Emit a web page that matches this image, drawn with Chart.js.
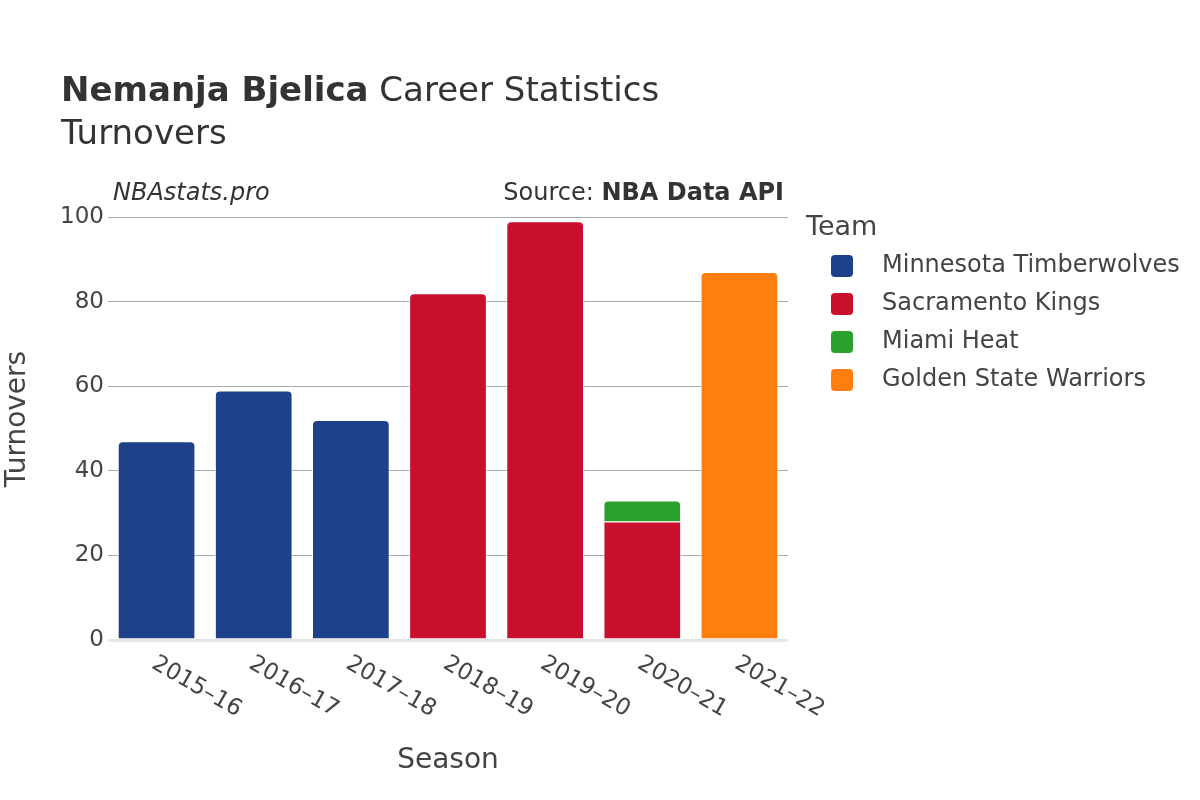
<!DOCTYPE html>
<html>
<head>
<meta charset="utf-8">
<script src="https://cdn.jsdelivr.net/npm/chart.js@4.4.1/dist/chart.umd.min.js"></script>
<style>
  html, body { margin: 0; padding: 0; background: #fff; }
  #wrap { width: 1200px; height: 800px; }
</style>
</head>
<body>
<div id="wrap"><canvas id="turnoversChart" width="1200" height="800"></canvas></div>
<script>
// seasons + turnovers by team (null = didn't play for that team)
var seasons = ['2015–16', '2016–17', '2017–18', '2018–19', '2019–20', '2020–21', '2021–22'];
var timberwolves = [47, 59, 52, null, null, null, null];
var kings = [null, null, null, 82, 99, 28, null];
var heat = [null, null, null, null, null, 5, null];
var warriors = [null, null, null, null, null, null, 87];
var yTicks = [0, 20, 40, 60, 80, 100];

var FONT = '"DejaVu Sans", sans-serif';
var TEXT = '#444';

// round only the top segment of a stack
function topRadius(ctx) {
  var ds = ctx.chart.data.datasets;
  for (var k = ctx.datasetIndex + 1; k < ds.length; k++) {
    if (ds[k].data[ctx.dataIndex] != null) return 0;
  }
  return { topLeft: 5, topRight: 5, bottomLeft: 0, bottomRight: 0 };
}

function makeSet(label, data, color) {
  return {
    label: label,
    data: data,
    backgroundColor: color,
    borderColor: 'rgba(255,255,255,0.9)',
    borderWidth: 1,
    borderSkipped: 'bottom',
    borderRadius: topRadius,
    barPercentage: 0.8,
    categoryPercentage: 1.0
  };
}

var textPlugin = {
  id: 'textPlugin',
  afterDraw: function (chart) {
    var c = chart.ctx;
    c.save();
    c.fillStyle = '#333';
    c.textBaseline = 'alphabetic';
    c.textAlign = 'left';

    // title
    c.font = 'bold 34px ' + FONT;
    var bold = 'Nemanja Bjelica';
    c.fillText(bold, 61, 101);
    var w = c.measureText(bold).width;
    c.font = '34px ' + FONT;
    c.fillText(' Career Statistics', 61 + w, 101);
    c.fillText('Turnovers', 61, 144);

    // subtitle row
    c.font = 'italic 24px ' + FONT;
    c.fillText('NBAstats.pro', 113, 200);
    c.textAlign = 'right';
    c.font = 'bold 24px ' + FONT;
    c.fillText('NBA Data API', 784, 200);
    var w2 = c.measureText('NBA Data API').width;
    c.font = '24px ' + FONT;
    c.fillText('Source: ', 784 - w2, 200);

    // x tick labels, rotated clockwise
    var xs = chart.scales.x;
    c.fillStyle = TEXT;
    c.font = '23px ' + FONT;
    c.textAlign = 'left';
    c.textBaseline = 'middle';
    seasons.forEach(function (s, i) {
      var x = xs.getPixelForValue(i);
      c.save();
      c.translate(x - 3, 662);
      c.rotate(Math.PI / 6);
      c.fillText(s, 0, 0);
      c.restore();
    });

    // axis titles
    c.font = '28px ' + FONT;
    c.textAlign = 'center';
    c.fillText('Season', (chart.chartArea.left + chart.chartArea.right) / 2, 761);
    c.save();
    c.translate(18, 419);
    c.rotate(-Math.PI / 2);
    c.fillText('Turnovers', 0, 0);
    c.restore();

    // legend
    c.textAlign = 'left';
    c.font = '27px ' + FONT;
    c.fillText('Team', 806, 228);
    c.font = '24px ' + FONT;
    chart.data.datasets.forEach(function (ds, i) {
      var y = 266 + i * 38;
      c.fillStyle = ds.backgroundColor;
      c.beginPath();
      c.roundRect(831, y - 11, 22, 22, 4);
      c.fill();
      c.fillStyle = TEXT;
      c.fillText(ds.label, 882, y);
    });
    c.restore();
  }
};

var ctx = document.getElementById('turnoversChart');
var turnoversChart = new Chart(ctx, {
  type: 'bar',
  data: {
    labels: seasons,
    datasets: [
      makeSet('Minnesota Timberwolves', timberwolves, '#1d428a'),
      makeSet('Sacramento Kings', kings, '#c8102e'),
      makeSet('Miami Heat', heat, '#2ca02c'),
      makeSet('Golden State Warriors', warriors, '#ff7f0e')
    ]
  },
  options: {
    responsive: false,
    animation: false,
    layout: { padding: { top: 217, right: 412, bottom: 0, left: 0 } },
    plugins: {
      legend: { display: false },
      tooltip: { enabled: false }
    },
    scales: {
      x: {
        stacked: true,
        grid: { display: false },
        border: { display: false },
        ticks: { display: false },
        afterFit: function (s) { s.height = 160; }
      },
      y: {
        stacked: true,
        min: 0,
        max: 100,
        afterFit: function (s) { s.width = 108; },
        afterBuildTicks: function (s) {
          s.ticks = yTicks.map(function (v) { return { value: v }; });
        },
        border: { display: false },
        grid: {
          color: function (c) { return c.tick && c.tick.value === 0 ? '#e6e6e6' : '#a8a8a8'; },
          lineWidth: function (c) { return c.tick && c.tick.value === 0 ? 3 : 1; },
          drawTicks: false
        },
        ticks: {
          color: TEXT,
          font: { family: FONT, size: 23 },
          padding: 4
        }
      }
    }
  },
  plugins: [textPlugin]
});
</script>
</body>
</html>
